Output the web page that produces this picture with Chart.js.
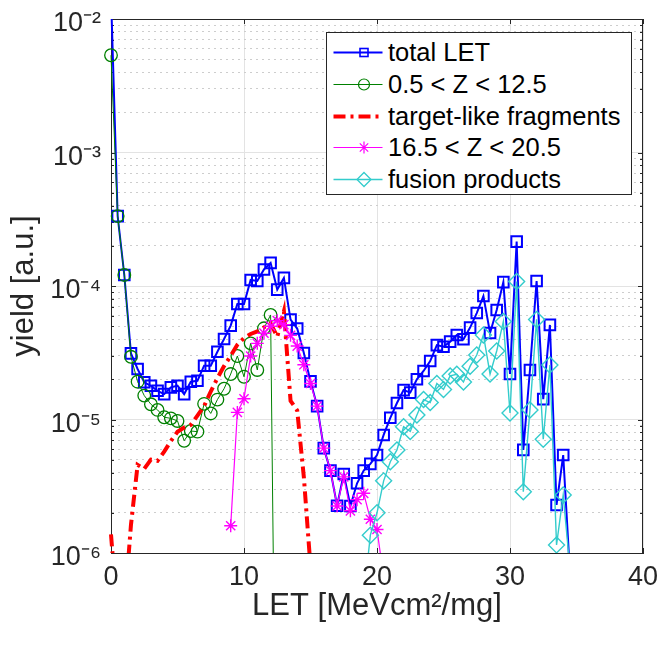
<!DOCTYPE html>
<html>
<head>
<meta charset="utf-8">
<title>LET yield</title>
<script src="https://cdn.jsdelivr.net/npm/chart.js@4.4.1/dist/chart.umd.min.js"></script>
<style>
  body { margin: 0; background: #fff; }
  #wrap { position: relative; width: 659px; height: 649px; }
  #legend {
    position: absolute; left: 326px; top: 32px; width: 306px; height: 163px;
    box-sizing: border-box; border: 1px solid #262626; background: #fff;
    font-family: 'Liberation Sans', Arial, sans-serif; font-size: 25.5px; color: #000;
  }
  .row { position: absolute; left: 0; height: 31.7px; display: flex; align-items: center; white-space: nowrap; }
  .row svg { margin-left: 6px; margin-right: 5px; }
</style>
</head>
<body>
<div id="wrap">
  <canvas id="grafico" width="659" height="649"></canvas>
  <div id="legend"></div>
</div>
<script>
// LET bins (MeV cm2/mg)
const letBins = [0, 0.5, 1, 1.5, 2, 2.5, 3, 3.5, 4, 4.5, 5, 5.5, 6, 6.5, 7, 7.5, 8, 8.5, 9, 9.5,
  10, 10.5, 11, 11.5, 12, 12.5, 13, 13.5, 14, 14.5, 15, 15.5, 16, 16.5, 17, 17.5, 18, 18.5, 19, 19.5,
  20, 20.5, 21, 21.5, 22, 22.5, 23, 23.5, 24, 24.5, 25, 25.5, 26, 26.5, 27, 27.5, 28, 28.5, 29, 29.5,
  30, 30.5, 31, 31.5, 32, 32.5, 33, 33.5, 34, 34.5];

const totalLET = [1.5e-2, 3.34e-4, 1.21e-4, 3.13e-5, 2.39e-5, 1.90e-5, 1.79e-5, 1.64e-5, 1.55e-5, 1.74e-5,
  1.79e-5, 1.55e-5, 1.92e-5, 1.95e-5, 2.53e-5, 2.53e-5, 3.22e-5, 4.01e-5, 5.05e-5, 7.33e-5,
  7.33e-5, 1.11e-4, 1.09e-4, 1.33e-4, 1.49e-4, 9.4e-5, 1.15e-4, 5.6e-5, 4.8e-5, 3.15e-5,
  1.93e-5, 1.26e-5, 6.1e-6, 4.14e-6, 2.26e-6, 3.91e-6, 2.25e-6, 3.33e-6, 4.14e-6, 4.65e-6,
  5.42e-6, 7.66e-6, 1.03e-5, 1.33e-5, 1.66e-5, 1.59e-5, 2.0e-5, 2.31e-5, 2.74e-5, 3.61e-5,
  3.51e-5, 3.83e-5, 4.30e-5, 3.99e-5, 4.88e-5, 6.27e-5, 8.41e-5, 4.45e-5, 6.61e-5, 1.07e-4,
  2.19e-5, 2.15e-4, 5.92e-6, 2.35e-5, 1.09e-4, 1.42e-5, 5.11e-5, 2.29e-6, 5.42e-6, 7.3e-7];

const lightIons = [5.35e-3, 3.34e-4, 1.21e-4, 2.95e-5, 1.92e-5, 1.51e-5, 1.30e-5, 1.18e-5, 1.04e-5, 1.02e-5,
  9.75e-6, 6.93e-6, 8.2e-6, 8.11e-6, 1.31e-5, 1.11e-5, 1.41e-5, 1.70e-5, 2.19e-5, 2.99e-5,
  2.09e-5, 3.72e-5, 2.35e-5, 4.82e-5, 6.07e-5, 2e-9];

const targetLike = [1.38e-6, 3.2e-7, 3.7e-7, 1.62e-6, 4.57e-6, 4.27e-6, 5.0e-6, 4.9e-6, 5.75e-6, 6.9e-6,
  8.1e-6, 8.7e-6, 9.1e-6, 1.07e-5, 1.26e-5, 1.62e-5, 2.04e-5, 2.51e-5, 3.0e-5, 3.63e-5,
  4.07e-5, 4.37e-5, 4.57e-5, 4.9e-5, 5.25e-5, 4.17e-5, 6.46e-5, 1.38e-5, 1.17e-5, 3.7e-6,
  7.9e-7];

const heavyIons = [null, null, null, null, null, null, null, null, null, null,
  null, null, null, null, null, null, null, null, 1.6e-6, 1.13e-5,
  1.43e-5, 2.99e-5, 3.72e-5, 4.43e-5, 5.0e-5, 5.5e-5, 5.13e-5, 4.27e-5, 3.55e-5, 2.57e-5,
  1.86e-5, 1.26e-5, 6.1e-6, 4.14e-6, 2.25e-6, 3.72e-6, 2.07e-6, 2.51e-6, 2.8e-6, 1.79e-6,
  1.5e-6, 6.6e-7];

const fusionProducts = [null, null, null, null, null, null, null, null, null, null,
  null, null, null, null, null, null, null, null, null, null,
  null, null, null, null, null, null, null, null, null, null,
  null, null, null, null, null, null, null, null, 4.6e-7, 1.36e-6,
  2.0e-6, 3.47e-6, 4.83e-6, 5.92e-6, 8.83e-6, 8.13e-6, 1.08e-5, 1.41e-5, 1.34e-5, 1.86e-5,
  1.68e-5, 2.12e-5, 2.18e-5, 1.91e-5, 2.51e-5, 3.04e-5, 4.3e-5, 2.19e-5, 3.26e-5, 5.43e-5,
  1.12e-5, 1.08e-4, 2.88e-6, 1.18e-5, 5.62e-5, 7.11e-6, 2.56e-5, 1.15e-6, 2.72e-6, 7.8e-7];

const seriesNames = ['total LET', '0.5 < Z < 12.5', 'target-like fragments', '16.5 < Z < 20.5', 'fusion products'];
const xTicks = [0, 10, 20, 30, 40];
const yDecades = [1e-6, 1e-5, 1e-4, 1e-3, 1e-2];
const yTickLabels = ['10⁻⁶', '10⁻⁵', '10⁻⁴', '10⁻³', '10⁻²'];

const FONT = "'Liberation Sans', Arial, sans-serif";
const INK = '#262626';

function puntos(serie) {
    return serie.map((y, i) => ({ x: letBins[i], y: y }));
}

function esDecada(v) {
    const l = Math.log10(v);
    return Math.abs(l - Math.round(l)) < 1e-6;
}

const estilos = [
    { color: '#0000ff', width: 2, dash: [], marker: 'rect', radius: 7.5, mw: 2 },
    { color: '#008000', width: 1, dash: [], marker: 'circle', radius: 6.3, mw: 1.3 },
    { color: '#ff0000', width: 4, dash: [12, 5, 3, 5], marker: false, radius: 0, mw: 0 },
    { color: '#ff00ff', width: 1.2, dash: [], marker: 'star', radius: 6.5, mw: 1.4 },
    { color: '#33cccc', width: 1.4, dash: [], marker: 'rectRot', radius: 8, mw: 1.4 }
];
const series = [totalLET, lightIons, targetLike, heavyIons, fusionProducts];

const datasets = series.map((serie, k) => {
    const e = estilos[k];
    return {
        label: seriesNames[k],
        data: puntos(serie),
        borderColor: e.color,
        borderWidth: e.width,
        borderDash: e.dash,
        pointStyle: e.marker,
        pointRadius: e.radius,
        pointBorderWidth: e.mw,
        pointBorderColor: e.color,
        pointBackgroundColor: 'rgba(0,0,0,0)',
        tension: 0,
        fill: false,
        order: 5 - k,
        clip: { left: 8, top: 0, right: 8, bottom: 0 }
    };
});

// caja de ejes y marcas hacia dentro, como en MATLAB
const marco = {
    id: 'marco',
    beforeDatasetsDraw(chart) {
        const { ctx, chartArea: a, scales } = chart;
        ctx.save();
        ctx.strokeStyle = INK;
        ctx.lineWidth = 1;
        ctx.beginPath();
        ctx.moveTo(a.left, a.top + 0.5); ctx.lineTo(a.right, a.top + 0.5);
        ctx.moveTo(a.right - 0.5, a.top); ctx.lineTo(a.right - 0.5, a.bottom);
        xTicks.forEach(v => {
            const px = Math.round(scales.x.getPixelForValue(v)) + 0.5;
            ctx.moveTo(px, a.bottom); ctx.lineTo(px, a.bottom - 5);
            ctx.moveTo(px, a.top); ctx.lineTo(px, a.top + 5);
        });
        scales.y.ticks.forEach(t => {
            const py = Math.round(scales.y.getPixelForValue(t.value)) + 0.5;
            const len = esDecada(t.value) ? 5 : 3;
            ctx.moveTo(a.left, py); ctx.lineTo(a.left + len, py);
            ctx.moveTo(a.right, py); ctx.lineTo(a.right - len, py);
        });
        ctx.stroke();
        ctx.restore();
    }
};

const chart = new Chart(document.getElementById('grafico').getContext('2d'), {
    type: 'line',
    data: { datasets: datasets },
    options: {
        responsive: false,
        animation: false,
        devicePixelRatio: 1,
        events: [],
        layout: { padding: { left: 0, top: 19, right: 16, bottom: 0 } },
        plugins: { legend: { display: false }, tooltip: { enabled: false } },
        scales: {
            x: {
                type: 'linear',
                min: 0,
                max: 40,
                afterBuildTicks: (s) => { s.ticks = xTicks.map(v => ({ value: v })); },
                afterFit: (s) => { s.height = 96; s.paddingLeft = 0; s.paddingRight = 0; },
                ticks: { color: INK, font: { family: FONT, size: 27 }, padding: 8 },
                grid: { color: '#e3e3e3', drawTicks: false, tickLength: 0 },
                border: { color: INK, width: 1 },
                title: {
                    display: true, text: 'LET [MeVcm²/mg]', color: INK,
                    font: { family: FONT, size: 31 }, padding: { top: 0, bottom: 24 }
                }
            },
            y: {
                type: 'logarithmic',
                min: 1e-6,
                max: 1e-2,
                afterBuildTicks: (s) => {
                    const t = [];
                    yDecades.forEach((d, i) => {
                        if (i === yDecades.length - 1) { t.push({ value: d }); return; }
                        for (let m = 1; m <= 9; m++) t.push({ value: +(m * d).toPrecision(3) });
                    });
                    s.ticks = t;
                },
                afterFit: (s) => { s.width = 111; s.paddingTop = 0; s.paddingBottom = 0; },
                ticks: {
                    autoSkip: false,
                    color: INK,
                    font: { family: FONT, size: 27 },
                    padding: 10,
                    labelOffset: 5,
                    callback: (v) => {
                        const i = yDecades.findIndex(d => Math.abs(d - v) / d < 1e-6);
                        return i >= 0 ? yTickLabels[i] : '';
                    }
                },
                grid: {
                    drawTicks: false,
                    tickLength: 0,
                    color: (c) => esDecada(c.tick.value) ? '#e3e3e3' : '#cdcdcd'
                },
                border: {
                    color: INK, width: 1,
                    dash: (c) => (c.tick && !esDecada(c.tick.value)) ? [2, 4] : []
                },
                title: {
                    display: true, text: 'yield [a.u.]', color: INK,
                    font: { family: FONT, size: 31 }, padding: { top: 6, bottom: 0 }
                }
            }
        }
    },
    plugins: [marco]
});

// leyenda con muestras de línea y marcador
function muestra(e) {
    const c = e.color;
    let m = '';
    if (e.marker === 'rect') m = `<rect x="27" y="11.5" width="8" height="8" fill="none" stroke="${c}" stroke-width="1.6"/>`;
    if (e.marker === 'circle') m = `<circle cx="31" cy="15.5" r="5.5" fill="none" stroke="${c}" stroke-width="1.2"/>`;
    if (e.marker === 'star') m = `<path d="M31 9.5V21.5M25 15.5H37M26.8 11.3L35.2 19.7M35.2 11.3L26.8 19.7" stroke="${c}" stroke-width="1.2"/>`;
    if (e.marker === 'rectRot') m = `<path d="M31 8.5L38 15.5L31 22.5L24 15.5Z" fill="none" stroke="${c}" stroke-width="1.3"/>`;
    const dash = e.dash.length ? `stroke-dasharray="${e.dash.join(' ')}"` : '';
    return `<svg width="50" height="31" viewBox="0 0 50 31"><line x1="0.5" y1="15.5" x2="49.5" y2="15.5" stroke="${c}" stroke-width="${e.width}" ${dash}/>${m}</svg>`;
}

const leyenda = document.getElementById('legend');
leyenda.innerHTML = seriesNames.map((n, k) =>
    `<div class="row" style="top:${4 + k * 31.7}px">${muestra(estilos[k])}<span>${n.replace(/</g, '&lt;')}</span></div>`
).join('');
</script>
</body>
</html>
